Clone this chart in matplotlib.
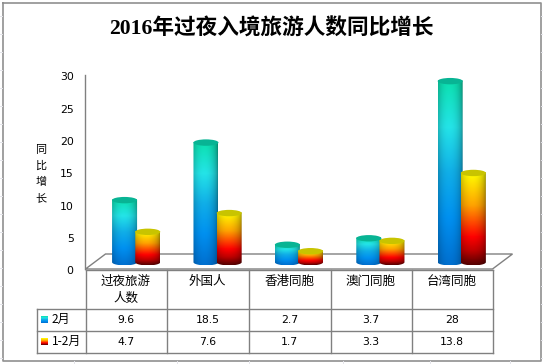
import numpy as np
import matplotlib
matplotlib.use("Agg")
import matplotlib.pyplot as plt
from matplotlib.colors import LinearSegmentedColormap
from matplotlib.patches import Ellipse, PathPatch, Polygon
from matplotlib.path import Path
from matplotlib.transforms import ScaledTranslation

title = "2016年过夜入境旅游人数同比增长"
categories = ["过夜旅游\n人数", "外国人", "香港同胞", "澳门同胞", "台湾同胞"]
series_names = ["2月", "1-2月"]
feb = [9.6, 18.5, 2.7, 3.7, 28]
jan_feb = [4.7, 7.6, 1.7, 3.3, 13.8]
yticks = [0, 5, 10, 15, 20, 25, 30]
ytitle = "同比增长"

CJK = ["Noto Sans CJK SC", "DejaVu Sans"]
plt.rcParams["font.family"] = CJK
W, H = 543, 364
fig = plt.figure(figsize=(W / 100, H / 100), dpi=100, facecolor="white")

GRAY = "#808080"
cool = LinearSegmentedColormap.from_list("cool3d", ["#0ce0b0", "#24e4e8", "#10aee8", "#0090f0", "#0070d0"])
warm = LinearSegmentedColormap.from_list("warm3d", [(0, "#ffff00"), (0.35, "#ffa400"), (0.7, "#ff0000"), (0.85, "#c00000"), (1, "#580000")])
caps = ["#08b494", "#c8c400"]

# Overlay in pixel space for frame and table
ov = fig.add_axes([0, 0, 1, 1], zorder=0)
ov.set_xlim(0, W); ov.set_ylim(H, 0); ov.axis("off")

# Main plot axes
x0, x1, ytop, ybot = 85.5, 492.5, 75.0, 269.0
ax = fig.add_axes([x0 / W, 1 - ybot / H, (x1 - x0) / W, (ybot - ytop) / H], zorder=2)
ax.patch.set_alpha(0)
for s in ["top", "right", "bottom"]:
    ax.spines[s].set_visible(False)
ax.spines["left"].set_color(GRAY)
ax.spines["left"].set_linewidth(1.0)
ax.set_yticks(yticks)
ax.set_yticklabels([str(v) for v in yticks], fontsize=7.8, family="DejaVu Sans")
ax.tick_params(axis="y", length=0, pad=8.5)
ax.set_xticks([])
shift = ScaledTranslation(0, -1.2 / 100, fig.dpi_scale_trans)
for lab in ax.get_yticklabels():
    lab.set_transform(lab.get_transform() + shift)

px_x = (x1 - x0) / 5
px_y = (ybot - ytop) / 30
# depth of the 3D floor
dx, dy = 20 / px_x, 15 / px_y
ax.add_patch(Polygon([(-0.5, 0), (-0.5 + dx, dy), (4.5 + dx, dy), (4.5, 0)], closed=True,
                     fill=False, ec=GRAY, lw=1.0, clip_on=False, zorder=1))

base = 1.05
w = 25 / px_x
ry = 3.2 / px_y
offsets = [-0.02, 0.265]


def shaded(cmap, n=80):
    v = cmap(np.linspace(0, 1, n))[:, :3]
    u = np.linspace(0, 1, n)
    s = 0.58 + 0.42 * np.clip(1 - ((u - 0.45) / 0.55) ** 2, 0, 1) ** 0.6
    return v[:, None, :] * s[None, :, None]


for k, (vals, cmap, cap) in enumerate(zip([feb, jan_feb], [cool, warm], caps)):
    img = shaded(cmap)
    for i, v in enumerate(vals):
        cx = i + offsets[k]
        t0, t1 = base, base + v
        th = np.linspace(np.pi, 2 * np.pi, 40)
        xs = cx + w / 2 * np.cos(th)
        low = t0 + ry * np.sin(th)
        up = t1 - ry * np.sin(th)
        pts = np.r_[np.c_[xs, low], np.c_[xs[::-1], up[::-1]]]
        clip = PathPatch(Path(np.r_[pts, pts[:1]]), fc="none", ec="none", transform=ax.transData)
        ax.add_patch(clip)
        im = ax.imshow(img, extent=(cx - w / 2, cx + w / 2, t0 - ry, t1), aspect="auto",
                       interpolation="bilinear", zorder=3 + k, origin="upper")
        im.set_clip_path(clip)
        ax.add_patch(Ellipse((cx, t1), w, 2 * ry, fc=cap, ec="none", zorder=3 + k))

ax.set_xlim(-0.5, 4.5)
ax.set_ylim(0, 30)

# Frame of the chart
ov.plot([2.5, 2.5, 540.5, 540.5, 2.5], [2.5, 360.5, 360.5, 2.5, 2.5], color="#909090", lw=1.2)

# Faint worksheet gridlines outside the frame
for yy in range(16, H, 18):
    ov.plot([0, 2], [yy, yy], color="#e4e4ea", lw=0.7)
    ov.plot([541, W], [yy, yy], color="#e4e4ea", lw=0.7)
for xx in [74, 177, 249, 343, 430, 510]:
    ov.plot([xx, xx], [361, H], color="#e4e4ea", lw=0.7)

# Table
col_x = [85.5, 166.5, 248.5, 330.5, 411.5, 492.5]
y_rows = [269.5, 308.5, 330.5, 352.5]
leg_x = 36.5
for xx in col_x:
    ov.plot([xx, xx], [y_rows[0], y_rows[-1]], color=GRAY, lw=1.0)
ov.plot([col_x[0], col_x[-1]], [y_rows[0], y_rows[0]], color=GRAY, lw=1.0)
for yy in y_rows[1:]:
    ov.plot([leg_x, col_x[-1]], [yy, yy], color=GRAY, lw=1.0)
ov.plot([leg_x, leg_x], [y_rows[1], y_rows[-1]], color=GRAY, lw=1.0)

for i, c in enumerate(categories):
    xc = (col_x[i] + col_x[i + 1]) / 2
    ov.text(xc, 275, c, ha="center", va="top", fontsize=9, color="black", linespacing=1.4)
for r, (vals, name, cmap) in enumerate(zip([feb, jan_feb], series_names, [cool, warm])):
    yc = (y_rows[r + 1] + y_rows[r + 2]) / 2
    for i, v in enumerate(vals):
        ov.text((col_x[i] + col_x[i + 1]) / 2, yc + 0.5, str(v), ha="center", va="center",
                fontsize=7.8, family="DejaVu Sans", color="black")
    ov.text(52, yc - 0.5, name, ha="left", va="center", fontsize=8.6, color="black")
    ov.imshow(cmap(np.linspace(0, 1, 16))[:, None, :3], extent=(41, 48, yc + 3.5, yc - 3.5),
              aspect="auto", zorder=3)

ov.set_xlim(0, W); ov.set_ylim(H, 0)

# Titles
ov.text(271, 29.5, title, ha="center", va="center", fontsize=15.6, fontweight="bold",
        family=["Liberation Serif", "Noto Sans CJK SC"], color="black")
ov.text(41, 174, "\n".join(ytitle), ha="center", va="center", fontsize=8, color="black", linespacing=1.7)

fig.savefig("out.png", dpi=100, facecolor="white")
